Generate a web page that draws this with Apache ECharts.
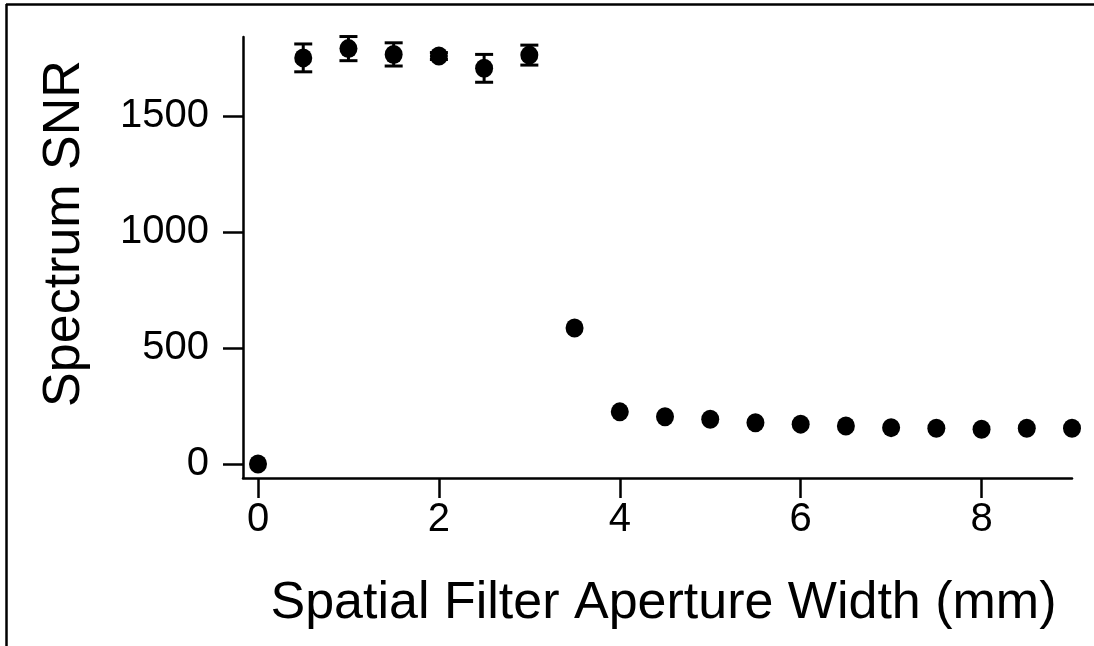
<!DOCTYPE html>
<html>
<head>
<meta charset="utf-8">
<script src="https://cdn.jsdelivr.net/npm/echarts@6/dist/echarts.min.js"></script>
<style>
  html, body { margin: 0; padding: 0; background: #fff; }
  #chart { width: 1094px; height: 646px; }
</style>
</head>
<body>
<div id="chart"></div>
<script>
// Aperture width (mm) and measured spectrum SNR with its uncertainty
const apertureWidth = [0, 0.5, 1, 1.5, 2, 2.5, 3, 3.5, 4, 4.5, 5, 5.5, 6, 6.5, 7, 7.5, 8, 8.5, 9];
const snr = [0, 1750, 1790, 1765, 1758, 1705, 1762, 586, 225, 204, 193, 178, 172, 164, 157, 154, 150, 154, 154];
const snrErr = [0, 60, 52, 50, 15, 60, 43, 0, 0, 0, 0, 0, 0, 0, 0, 0, 0, 0, 0];

const xTicks = [0, 2, 4, 6, 8];
const yTicks = [0, 500, 1000, 1500];

const points = apertureWidth.map((x, i) => [x, snr[i]]);
const bars = apertureWidth
  .map((x, i) => [x, snr[i] - snrErr[i], snr[i] + snrErr[i]])
  .filter((d, i) => snrErr[i] > 0);

const font = '"Liberation Sans", Arial, sans-serif';
const ink = '#000';
const plain = v => String(v);

const chart = echarts.init(document.getElementById('chart'), null, { renderer: 'canvas' });

chart.setOption({
  animation: false,
  backgroundColor: '#fff',
  grid: { left: 243, top: 37, right: 22, bottom: 168, containLabel: false },
  xAxis: {
    type: 'value',
    min: -0.166,
    max: 9.0,
    name: 'Spatial Filter Aperture Width (mm)',
    nameLocation: 'middle',
    nameGap: 100,
    nameTextStyle: { fontFamily: font, fontSize: 52, color: ink, padding: [0, 0, 0, 12] },
    axisLine: { show: true, onZero: false, lineStyle: { color: ink, width: 2.5 } },
    axisTick: { show: true, inside: false, length: 20, customValues: xTicks, lineStyle: { color: ink, width: 2.5 } },
    axisLabel: { customValues: xTicks, formatter: plain, margin: 22, fontFamily: font, fontSize: 40, color: ink },
    splitLine: { show: false }
  },
  yAxis: {
    type: 'value',
    min: -60,
    max: 1840,
    name: 'Spectrum SNR',
    nameLocation: 'middle',
    nameGap: 152,
    nameTextStyle: { fontFamily: font, fontSize: 52, color: ink, padding: [0, 0, 0, 48] },
    axisLine: { show: true, onZero: false, lineStyle: { color: ink, width: 2.5 } },
    axisTick: { show: true, inside: false, length: 20, customValues: yTicks, lineStyle: { color: ink, width: 2.5 } },
    axisLabel: { customValues: yTicks, formatter: plain, margin: 34, fontFamily: font, fontSize: 40, color: ink },
    splitLine: { show: false }
  },
  series: [
    {
      type: 'custom',
      data: bars,
      clip: false,
      z: 3,
      renderItem: function (params, api) {
        const x = api.value(0);
        const lo = api.coord([x, api.value(1)]);
        const hi = api.coord([x, api.value(2)]);
        const half = 9;
        const style = { stroke: ink, lineWidth: 3 };
        return {
          type: 'group',
          children: [
            { type: 'line', shape: { x1: lo[0], y1: lo[1], x2: hi[0], y2: hi[1] }, style: style },
            { type: 'line', shape: { x1: lo[0] - half, y1: lo[1], x2: lo[0] + half, y2: lo[1] }, style: style },
            { type: 'line', shape: { x1: hi[0] - half, y1: hi[1], x2: hi[0] + half, y2: hi[1] }, style: style }
          ]
        };
      }
    },
    {
      type: 'scatter',
      data: points,
      symbol: 'circle',
      symbolSize: [18, 19],
      clip: false,
      z: 4,
      itemStyle: { color: ink, opacity: 1 }
    }
  ],
  graphic: [
    { type: 'line', shape: { x1: 6, y1: 4.5, x2: 1094, y2: 4.5 }, style: { stroke: ink, lineWidth: 2.5 } },
    { type: 'line', shape: { x1: 6.5, y1: 4, x2: 6.5, y2: 646 }, style: { stroke: ink, lineWidth: 2.5 } }
  ]
});
</script>
</body>
</html>
